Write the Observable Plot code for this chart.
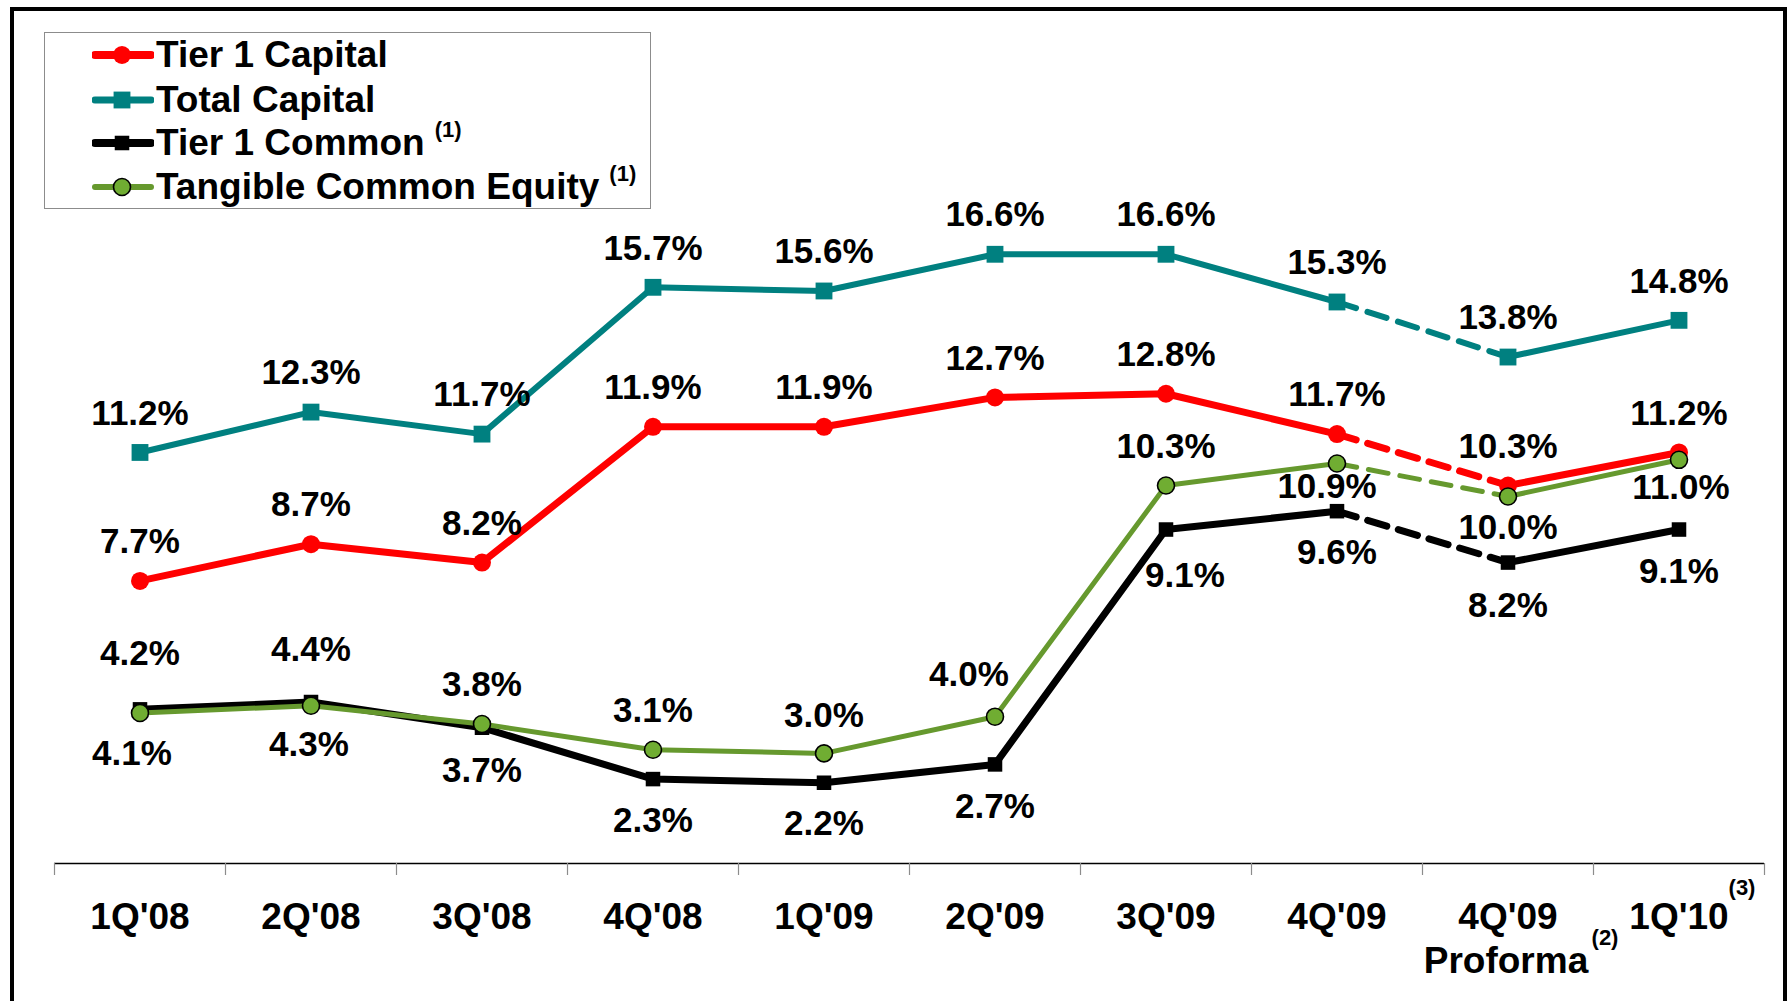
<!DOCTYPE html>
<html><head><meta charset="utf-8">
<script src="https://cdn.jsdelivr.net/npm/d3@7"></script>
<script src="https://cdn.jsdelivr.net/npm/@observablehq/plot@0.6"></script>
<style>
html,body{margin:0;padding:0;background:#fff;}
body{width:1787px;height:1001px;overflow:hidden;position:relative;font-family:"Liberation Sans",Arial,sans-serif;}
#chart{position:absolute;left:0;top:0;}
#frame{position:absolute;left:10px;top:7px;width:1777px;height:1020px;border:4px solid #000;border-bottom:none;box-sizing:border-box;pointer-events:none;}
#legend{position:absolute;left:44px;top:32px;width:607px;height:177px;border:1.5px solid #8c8c8c;box-sizing:border-box;background:#fff;}
.row{position:absolute;left:47px;height:44px;display:flex;align-items:center;font-weight:bold;font-size:37px;white-space:nowrap;color:#000;}
.row svg{margin-right:2px;}
.sup{font-size:22px;position:relative;top:-13px;margin-left:10px;}
</style></head>
<body>
<div id="chart"></div>
<div id="frame"></div>
<div id="legend"></div>
<script>
// ---- data ----
const categories = ["1Q'08","2Q'08","3Q'08","4Q'08","1Q'09","2Q'09","3Q'09","4Q'09","4Q'09","1Q'10"];
const categorySecondLine = ["","","","","","","","","Proforma",""];
const categoryNotes = ["","","","","","","","","(2)","(3)"];
const tier1Capital = [7.7, 8.7, 8.2, 11.9, 11.9, 12.7, 12.8, 11.7, 10.3, 11.2];
const totalCapital = [11.2, 12.3, 11.7, 15.7, 15.6, 16.6, 16.6, 15.3, 13.8, 14.8];
const tier1Common = [4.2, 4.4, 3.7, 2.3, 2.2, 2.7, 9.1, 9.6, 8.2, 9.1];
const tangibleCommonEquity = [4.1, 4.3, 3.8, 3.1, 3.0, 4.0, 10.3, 10.9, 10.0, 11.0];
const seriesNames = ["Tier 1 Capital","Total Capital","Tier 1 Common","Tangible Common Equity"];
const seriesNotes = ["","","(1)","(1)"];
const proformaIndex = 8; // segment into this point is dashed

// ---- layout / style config ----
const W = 1787, H = 1001;
const mTop = 129, mBottom = 138, mLeft = 54, mRight = 23;
const yMax = 20;
const pxPerUnit = (H - mTop - mBottom) / yMax;

const series = [
  {name: seriesNames[1], values: totalCapital, color: "#008080", sw: 6, symbol: "square", r: 9.5, fill: "#008080", stroke: "none",
   dy: [-39,-39,-39,-39,-39,-39,-39,-39,-39,-39], dx: [0,0,0,0,0,0,0,0,0,0]},
  {name: seriesNames[0], values: tier1Capital, color: "#FF0000", sw: 7, symbol: "circle", r: 9, fill: "#FF0000", stroke: "none",
   dy: [-39,-39,-39,-39,-39,-39,-39,-39,-39,-39], dx: [0,0,0,0,0,0,0,0,0,0]},
  {name: seriesNames[2], values: tier1Common, color: "#000000", sw: 7, symbol: "square", r: 8.2, fill: "#000000", stroke: "none",
   dy: [-56,-52,43,42,41,42,46,42,43,42], dx: [0,0,0,0,0,0,19,0,0,0]},
  {name: seriesNames[3], values: tangibleCommonEquity, color: "#66992E", sw: 5, symbol: "circle", r: 8.5, fill: "#70AD32", stroke: "#000",
   dy: [41,39,-39,-39,-38,-42,-39,23,31,28], dx: [-8,-2,0,0,0,-26,0,-10,0,2]}
];

const marks = [];
// axis line and boundary ticks
const boundaries = d3.range(categories.length + 1).map(i => i - 0.5);
marks.push(Plot.ruleY([0], {stroke: "#000", strokeWidth: 1.5}));
marks.push(Plot.ruleX(boundaries, {x: d => d, y1: 0, y2: -12 / pxPerUnit, stroke: "#8c8c8c", strokeWidth: 1.2}));

for (const s of series) {
  const rows = s.values.map((v, i) => ({i, v}));
  const solid = rows.filter(d => d.i !== proformaIndex).map(d => ({...d, seg: d.i < proformaIndex ? 0 : 1}))
    .concat(rows.filter(d => d.i === proformaIndex).map(d => ({...d, seg: 1})));
  solid.sort((a, b) => a.seg - b.seg || a.i - b.i);
  const dashed = rows.filter(d => d.i === proformaIndex - 1 || d.i === proformaIndex);
  marks.push(Plot.line(solid, {x: "i", y: "v", z: "seg", stroke: s.color, strokeWidth: s.sw, strokeLinejoin: "round"}));
  marks.push(Plot.line(dashed, {x: "i", y: "v", stroke: s.color, strokeWidth: s.sw, strokeDasharray: "20,12"}));
  marks.push(Plot.dot(rows, {x: "i", y: "v", symbol: () => s.symbol, r: s.r, fill: s.fill, stroke: s.stroke, strokeWidth: 1.6}));
}
// data labels
for (const s of series) {
  s.values.forEach((v, i) => {
    marks.push(Plot.text([{i, v}], {x: "i", y: "v", text: d => d.v.toFixed(1) + "%",
      dy: s.dy[i], dx: s.dx[i], lineAnchor: "middle", fontSize: 35, fontWeight: "bold", fill: "#000"}));
  });
}
// category labels
const catRows = categories.map((c, i) => ({i, c, c2: categorySecondLine[i], n: categoryNotes[i]}));
marks.push(Plot.text(catRows, {x: "i", y: () => 0, text: "c", dy: 54, lineAnchor: "middle", fontSize: 37, fontWeight: "bold", fill: "#000"}));
marks.push(Plot.text(catRows.filter(d => d.c2), {x: "i", y: () => 0, text: "c2", dy: 98, dx: -2, lineAnchor: "middle", fontSize: 37, fontWeight: "bold", fill: "#000"}));
marks.push(Plot.text(catRows.filter(d => d.n === "(2)"), {x: "i", y: () => 0, text: "n", dy: 74, dx: 97, lineAnchor: "middle", fontSize: 22, fontWeight: "bold", fill: "#000"}));
marks.push(Plot.text(catRows.filter(d => d.n === "(3)"), {x: "i", y: () => 0, text: "n", dy: 24, dx: 63, lineAnchor: "middle", fontSize: 22, fontWeight: "bold", fill: "#000"}));

const plot = Plot.plot({
  width: W, height: H,
  marginTop: mTop, marginBottom: mBottom, marginLeft: mLeft, marginRight: mRight,
  x: {type: "linear", domain: [-0.5, categories.length - 0.5], axis: null},
  y: {type: "linear", domain: [0, yMax], axis: null},
  style: {fontFamily: "'Liberation Sans', Arial, sans-serif", background: "transparent", overflow: "visible"},
  marks
});
document.getElementById("chart").append(plot);

// legend (HTML overlay)
const legend = document.getElementById("legend");
const legendOrder = [1, 0, 2, 3]; // Tier1 Capital, Total Capital, Tier1 Common, TCE
const centers = [22, 67, 110, 154];
legendOrder.forEach((si, k) => {
  const s = series[si];
  const row = document.createElement("div");
  row.className = "row";
  row.style.top = (centers[k] - 22) + "px";
  let marker;
  if (s.symbol === "circle") marker = `<circle cx="30" cy="22" r="${s.r}" fill="${s.fill}" stroke="${s.stroke}" stroke-width="1.6"/>`;
  else { const side = s.r * Math.sqrt(Math.PI); marker = `<rect x="${30 - side/2}" y="${22 - side/2}" width="${side}" height="${side}" fill="${s.fill}"/>`; }
  row.innerHTML = `<svg width="62" height="44"><line x1="3" y1="22" x2="59" y2="22" stroke="${s.color}" stroke-width="${s.sw + 1}" stroke-linecap="round"/>${marker}</svg>` +
    `<span>${s.name}</span>` + (seriesNotes[seriesNames.indexOf(s.name)] ? `<span class="sup">${seriesNotes[seriesNames.indexOf(s.name)]}</span>` : "");
  legend.append(row);
});
</script>
</body></html>
